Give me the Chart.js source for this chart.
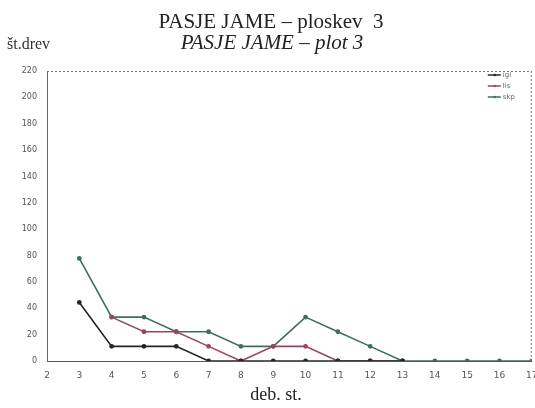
<!DOCTYPE html>
<html>
<head>
<meta charset="utf-8">
<script src="https://cdn.jsdelivr.net/npm/chart.js@4.4.1/dist/chart.umd.min.js"></script>
<style>
  html, body { margin: 0; padding: 0; background: #fff; }
  #wrap { width: 535px; height: 408px; position: relative; }
</style>
</head>
<body>
<div id="wrap"><canvas id="c" width="535" height="408"></canvas></div>
<script>
// diameter classes (deb. st.)
const classes = [2, 3, 4, 5, 6, 7, 8, 9, 10, 11, 12, 13, 14, 15, 16, 17];
// number of trees per class for each group (null = no value)
const seriesNames = ['igl', 'lis', 'skp'];
const blackValues = [null, 44.4, 11.1, 11.1, 11.1, 0, 0, 0, 0, 0, 0, 0, null, null, null, null];
const redValues   = [null, null, 33.3, 22.2, 22.2, 11.1, 0, 11.1, 11.1, 0, 0, 0, null, null, null, null];
const greenValues = [null, 77.8, 33.3, 33.3, 22.2, 22.2, 11.1, 11.1, 33.3, 22.2, 11.1, 0, 0, 0, 0, 0];
const yTicks = [0, 20, 40, 60, 80, 100, 120, 140, 160, 180, 200, 220];

const toPoints = vals => classes.map((c, i) => ({ x: c, y: vals[i] })).filter(p => p.y !== null);

const serif = '"Liberation Serif", "DejaVu Serif", serif';

const textPlugin = {
  id: 'texts',
  afterDraw(chart) {
    const ctx = chart.ctx;
    const area = chart.chartArea;
    ctx.save();
    ctx.fillStyle = '#222';
    ctx.textBaseline = 'alphabetic';
    ctx.textAlign = 'center';
    ctx.font = '21px ' + serif;
    ctx.fillText('PASJE JAME – ploskev  3', 271, 28);
    ctx.font = 'italic 21px ' + serif;
    ctx.fillText('PASJE JAME – plot 3', 272, 49);
    ctx.textAlign = 'left';
    ctx.font = '16px ' + serif;
    ctx.fillStyle = '#333';
    ctx.fillText('št.drev', 7, 49);
    ctx.textAlign = 'center';
    ctx.font = '18px ' + serif;
    ctx.fillStyle = '#222';
    ctx.fillText('deb. st.', 276, 400);
    // dotted frame along the top and right of the plot
    ctx.strokeStyle = '#777';
    ctx.lineWidth = 1;
    ctx.setLineDash([2, 2]);
    ctx.beginPath();
    ctx.moveTo(area.left, area.top + 0.5);
    ctx.lineTo(area.right, area.top + 0.5);
    ctx.moveTo(area.right - 0.5, area.top);
    ctx.lineTo(area.right - 0.5, area.bottom);
    ctx.stroke();
    ctx.setLineDash([]);
    // legend in the top-right corner of the plot
    ctx.font = '7px "DejaVu Sans"';
    ctx.textAlign = 'left';
    ctx.textBaseline = 'middle';
    chart.data.datasets.forEach((ds, i) => {
      const y = area.top + 4 + i * 11;
      ctx.strokeStyle = ds.borderColor;
      ctx.lineWidth = 1.5;
      ctx.beginPath();
      ctx.moveTo(area.right - 44, y);
      ctx.lineTo(area.right - 31, y);
      ctx.stroke();
      ctx.fillStyle = ds.borderColor;
      ctx.beginPath();
      ctx.arc(area.right - 37, y, 1.3, 0, Math.PI * 2);
      ctx.fill();
      ctx.fillStyle = '#666';
      ctx.fillText(ds.label, area.right - 29, y);
    });
    ctx.restore();
  }
};

const mk = (label, vals, color) => ({
  label,
  data: toPoints(vals),
  borderColor: color,
  backgroundColor: color,
  borderWidth: 1.6,
  pointRadius: 1.6,
  pointHoverRadius: 1.6,
  tension: 0
});

new Chart(document.getElementById('c'), {
  type: 'line',
  data: {
    datasets: [
      mk(seriesNames[0], blackValues, '#262626'),
      mk(seriesNames[1], redValues, '#9a4658'),
      mk(seriesNames[2], greenValues, '#3d6f5f')
    ]
  },
  options: {
    responsive: false,
    animation: false,
    devicePixelRatio: 1,
    layout: { padding: { top: 71, right: 3, left: 0, bottom: 0 } },
    plugins: {
      legend: { display: false },
      tooltip: { enabled: false }
    },
    scales: {
      x: {
        type: 'linear',
        min: 2,
        max: 17,
        afterFit(s) { s.height = 47; s.paddingRight = 0; s.paddingLeft = 0; },
        ticks: { stepSize: 1, color: '#555', font: { size: 9, family: 'DejaVu Sans' }, padding: 9 },
        grid: { display: false, drawTicks: false },
        border: { display: true, color: '#555', dash: [3, 3], width: 1 }
      },
      y: {
        min: 0,
        max: 220,
        afterFit(s) { s.width = 47; s.paddingTop = 0; s.paddingBottom = 0; },
        afterBuildTicks(s) { s.ticks = yTicks.map(v => ({ value: v })); },
        ticks: { color: '#555', font: { size: 8, family: 'DejaVu Sans' }, padding: 10 },
        grid: { display: false, drawTicks: false },
        border: { display: true, color: '#666', dash: [1, 2], width: 1 }
      }
    }
  },
  plugins: [textPlugin]
});
</script>
</body>
</html>
